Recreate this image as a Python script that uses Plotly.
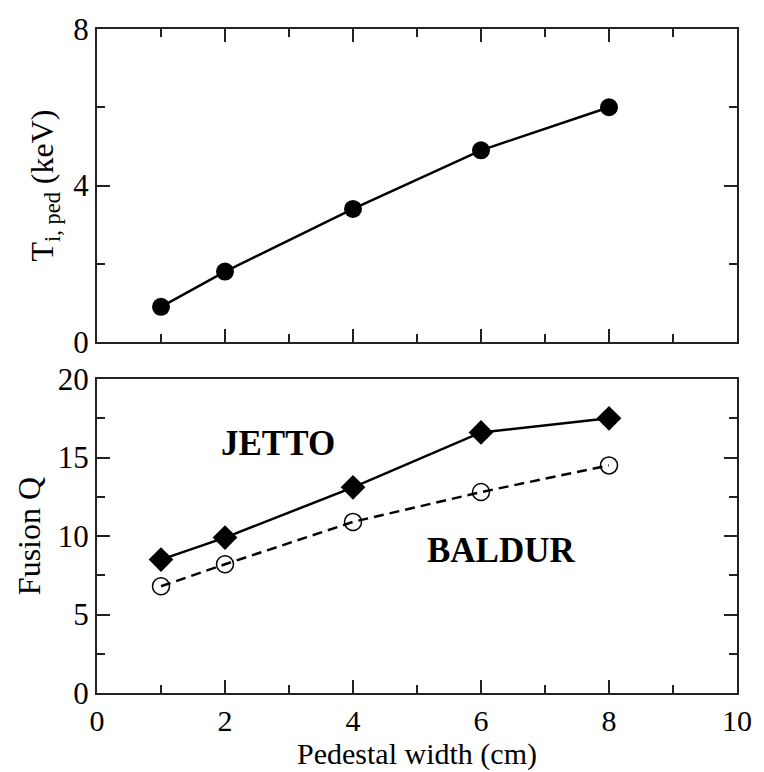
import plotly.graph_objects as go

# Data
width_cm = [1, 2, 4, 6, 8]
ti_ped = [0.9, 1.8, 3.4, 4.9, 6.0]
q_jetto = [8.5, 9.9, 13.1, 16.6, 17.5]
q_baldur = [6.8, 8.2, 10.9, 12.8, 14.5]

FONT = "Liberation Serif"
AX = "#222"

fig = go.Figure()
fig.add_trace(go.Scatter(x=width_cm, y=ti_ped, mode="lines+markers",
                         line=dict(color="black", width=2.5),
                         marker=dict(symbol="circle", size=18, color="black"),
                         xaxis="x", yaxis="y", showlegend=False))
fig.add_trace(go.Scatter(x=width_cm, y=q_jetto, mode="lines+markers",
                         line=dict(color="black", width=2.5),
                         marker=dict(symbol="diamond", size=19, color="black"),
                         xaxis="x2", yaxis="y2", showlegend=False))
fig.add_trace(go.Scatter(x=width_cm, y=q_baldur, mode="lines+markers",
                         line=dict(color="black", width=2.5, dash="10px,6px"),
                         marker=dict(symbol="circle-open", size=17, color="black",
                                     line=dict(width=1.5, color="black")),
                         xaxis="x2", yaxis="y2", showlegend=False))

common_x = dict(range=[0, 10], dtick=2, tick0=0, ticks="inside", ticklen=13,
                tickwidth=1.5, tickcolor=AX, showline=True, linecolor=AX,
                linewidth=2, showgrid=False, zeroline=False,
                minor=dict(dtick=1, ticks="inside", ticklen=8, tickwidth=1.5,
                           tickcolor=AX, showgrid=False),
                tickfont=dict(family=FONT, size=30, color="black"))

fig.update_layout(
    width=764, height=772,
    margin=dict(l=97, r=15, t=15, b=76),
    plot_bgcolor="white", paper_bgcolor="white",
    font=dict(family=FONT, color="black"),
    xaxis=dict(common_x, domain=[0, 1], anchor="y", showticklabels=False,
               mirror="ticks"),
    yaxis=dict(range=[0, 8], dtick=4, tick0=0, domain=[0.5286, 1], anchor="x",
               ticks="inside", ticklen=13, tickwidth=1.5, tickcolor=AX,
               showline=True, linecolor=AX, linewidth=2, mirror="ticks",
               showgrid=False, zeroline=False,
               minor=dict(dtick=2, ticks="inside", ticklen=8, tickwidth=1.5,
                          tickcolor=AX, showgrid=False),
               tickfont=dict(family=FONT, size=31, color="black"),
               title=dict(text="T<sub>i, ped</sub> (keV)",
                          font=dict(family=FONT, size=32, color="black"),
                          standoff=10)),
    xaxis2=dict(common_x, domain=[0, 1], anchor="y2", mirror=True,
                ticklabeloverflow="allow",
                title=dict(text="Pedestal width (cm)",
                           font=dict(family=FONT, size=30, color="black"),
                           standoff=2)),
    yaxis2=dict(range=[0, 20], dtick=5, tick0=0, domain=[0, 0.4728], anchor="x2",
                ticks="inside", ticklen=13, tickwidth=1.5, tickcolor=AX,
                showline=True, linecolor=AX, linewidth=2, mirror="ticks",
                showgrid=False, zeroline=False,
                minor=dict(dtick=2.5, ticks="inside", ticklen=8, tickwidth=1.5,
                           tickcolor=AX, showgrid=False),
                tickfont=dict(family=FONT, size=31, color="black"),
                title=dict(text="Fusion Q",
                           font=dict(family=FONT, size=32, color="black"),
                           standoff=8)),
)

fig.add_annotation(x=2.83, y=15.9, xref="x2", yref="y2", text="<b>JETTO</b>",
                   showarrow=False, font=dict(family=FONT, size=35, color="black"))
fig.add_annotation(x=6.32, y=9.1, xref="x2", yref="y2", text="<b>BALDUR</b>",
                   showarrow=False, font=dict(family=FONT, size=35, color="black"))

fig.write_html("out.html")
